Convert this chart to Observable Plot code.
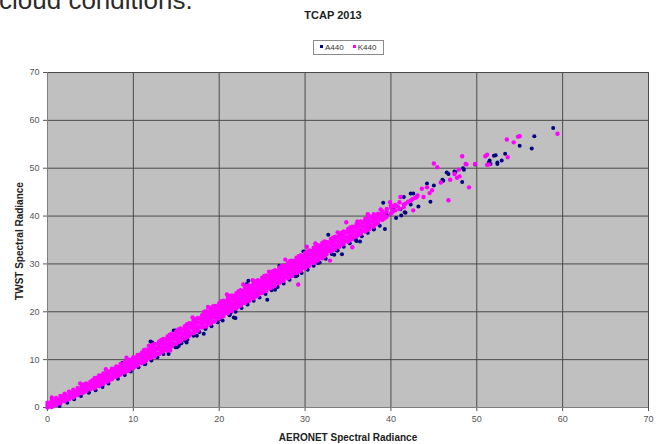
<!DOCTYPE html>
<html>
<head>
<meta charset="utf-8">
<script src="https://cdn.jsdelivr.net/npm/d3@7"></script>
<script src="https://cdn.jsdelivr.net/npm/@observablehq/plot@0.6"></script>
<style>
  html, body { margin: 0; padding: 0; background: #fff; }
  #wrap { position: relative; width: 656px; height: 444px; overflow: hidden; font-family: "Liberation Sans", Arial, sans-serif; }
  #chart { position: absolute; left: 0; top: 0; }
  .abs { position: absolute; white-space: nowrap; }
  #slide { left: -1px; top: -13px; font-size: 26px; line-height: 26px; color: #2b2b2b; }
  #title { left: 233px; width: 200px; text-align: center; top: 8px; font-size: 11px; line-height: 14px; font-weight: bold; color: #222; }
  #legend { left: 313px; top: 40px; width: 69px; height: 13px; border: 1px solid #8a8a8a; background: #fff; font-size: 8px; line-height: 13px; color: #333; }
  #legend span.m { display: inline-block; width: 3px; height: 3px; vertical-align: middle; margin: 0 2px 0 6px; position: relative; top: -1px; }
  #ytitle { left: 19px; top: 241px; transform: translate(-50%, -50%) rotate(-90deg); font-size: 10px; font-weight: bold; color: #222; }
  #xtitle { left: 348px; top: 437px; transform: translate(-50%, -50%); font-size: 10px; font-weight: bold; color: #222; }
</style>
</head>
<body>
<div id="wrap">
  <div id="chart"></div>
  <div class="abs" id="slide">cloud conditions.</div>
  <div class="abs" id="title">TCAP 2013</div>
  <div class="abs" id="legend"><span class="m" style="background:#000080"></span>A440<span class="m" style="background:#ff00ff;margin-left:9px"></span>K440</div>
  <div class="abs" id="ytitle">TWST Spectral Radiance</div>
  <div class="abs" id="xtitle">AERONET Spectral Radiance</div>
</div>
<script>
// Axis ticks
const xTicks = [0, 10, 20, 30, 40, 50, 60, 70];
const yTicks = [0, 10, 20, 30, 40, 50, 60, 70];
const seriesNames = ["A440", "K440"];
const seriesColors = ["#000080", "#ff00ff"];

// K440 dense band, read as columns: [AERONET x, TWST y values...]
const k440Band = [
  [0.0, 0.0, 0.5, 1.0], [0.5, 0.1, 0.8, 1.5], [1.0, 0.5, 1.2, 2.0], [1.5, 0.9, 1.7, 2.4],
  [2.0, 1.3, 2.1, 2.9], [2.5, 1.7, 2.5, 3.3], [3.0, 2.1, 2.9, 3.7], [3.5, 2.6, 3.4, 4.1],
  [4.0, 3.0, 3.8, 4.5], [4.5, 3.4, 4.2, 5.0], [5.0, 3.8, 4.6, 5.4],
  [5.5, 4.0, 4.7, 5.5, 6.2], [6.0, 4.5, 5.2, 6.0, 6.7], [6.5, 4.9, 5.6, 6.4, 7.1],
  [7.0, 5.4, 6.1, 6.9, 7.6], [7.5, 5.9, 6.6, 7.4, 8.1], [8.0, 6.4, 7.1, 7.9, 8.6],
  [8.5, 6.9, 7.6, 8.4, 9.1], [9.0, 7.3, 8.0, 8.8, 9.5], [9.5, 7.8, 8.5, 9.3, 10.0],
  [10.0, 8.3, 9.0, 9.8, 10.5], [10.5, 8.8, 9.5, 10.3, 11.0], [11.0, 9.3, 10.0, 10.8, 11.5],
  [11.5, 9.8, 10.6, 11.4, 12.1], [12.0, 10.3, 11.1, 11.9, 12.6],
  [12.5, 10.7, 11.6, 12.4, 13.3], [13.0, 11.2, 12.1, 12.9, 13.8], [13.5, 11.7, 12.6, 13.5, 14.3],
  [14.0, 12.3, 13.1, 14.0, 14.9], [14.5, 12.8, 13.6, 14.5, 15.4], [15.0, 13.3, 14.2, 15.0, 15.9],
  [15.5, 13.9, 14.7, 15.6, 16.5], [16.0, 14.4, 15.3, 16.2, 17.0], [16.5, 15.0, 15.8, 16.7, 17.6],
  [17.0, 15.5, 16.4, 17.3, 18.1], [17.5, 16.1, 16.9, 17.8, 18.7], [18.0, 16.7, 17.5, 18.4, 19.3],
  [18.5, 16.9, 17.7, 18.5, 19.3, 20.1], [19.0, 17.5, 18.3, 19.1, 19.9, 20.7],
  [19.5, 18.0, 18.8, 19.6, 20.4, 21.2], [20.0, 18.6, 19.4, 20.2, 21.0, 21.8],
  [20.5, 19.1, 19.9, 20.7, 21.5, 22.3], [21.0, 19.7, 20.5, 21.3, 22.1, 22.9],
  [21.5, 20.2, 21.0, 21.8, 22.6, 23.4], [22.0, 20.7, 21.5, 22.3, 23.1, 23.9],
  [22.5, 21.3, 22.1, 22.9, 23.7, 24.5], [23.0, 21.8, 22.6, 23.4, 24.2, 25.0],
  [23.5, 22.3, 23.1, 23.9, 24.7, 25.5], [24.0, 22.8, 23.6, 24.4, 25.2, 26.0],
  [24.5, 23.4, 24.2, 25.0, 25.8, 26.6], [25.0, 23.9, 24.7, 25.5, 26.3, 27.1],
  [25.5, 24.4, 25.2, 26.0, 26.8, 27.6], [26.0, 24.9, 25.7, 26.5, 27.3, 28.1],
  [26.5, 25.5, 26.3, 27.1, 27.9, 28.7], [27.0, 26.0, 26.8, 27.6, 28.4, 29.2],
  [27.5, 26.5, 27.3, 28.1, 28.9, 29.7], [28.0, 27.0, 27.8, 28.6, 29.4, 30.2],
  [28.5, 27.5, 28.3, 29.1, 29.9, 30.7], [29.0, 28.1, 28.9, 29.7, 30.5, 31.3],
  [29.5, 28.6, 29.4, 30.2, 31.0, 31.8], [30.0, 29.1, 29.9, 30.7, 31.5, 32.3],
  [30.5, 29.6, 30.4, 31.2, 32.0, 32.8], [31.0, 30.2, 31.0, 31.8, 32.6, 33.4],
  [31.5, 30.7, 31.5, 32.3, 33.1, 33.9], [32.0, 31.2, 32.0, 32.8, 33.6, 34.4],
  [32.5, 32.0, 32.9, 33.8, 34.6], [33.0, 32.6, 33.4, 34.3, 35.2], [33.5, 33.1, 34.0, 34.9, 35.7],
  [34.0, 33.6, 34.5, 35.4, 36.2], [34.5, 34.2, 35.0, 35.9, 36.8], [35.0, 34.7, 35.5, 36.5, 37.3],
  [35.5, 35.2, 36.1, 37.0, 37.8], [36.0, 35.7, 36.6, 37.5, 38.3], [36.5, 36.3, 37.1, 38.0, 38.9],
  [37.0, 36.8, 37.6, 38.5, 39.4], [37.5, 37.3, 38.2, 39.0, 39.9], [38.0, 37.8, 38.7, 39.6, 40.4],
  [38.5, 38.6, 39.6, 40.5], [39.0, 39.2, 40.0, 41.0], [39.5, 39.8, 40.9], [40.0, 40.5, 41.8],
  [40.5, 41.2, 42.3], [41.0, 41.5, 42.9], [41.5, 42.4], [42.3, 43.2], [43.0, 44.0]
];

// K440 band, in-between columns at x.25
const k440BandMid = [
  [0.25, 0.3, 0.9], [1.25, 0.9, 1.6], [2.25, 1.7, 2.5], [3.25, 2.5, 3.3], [4.25, 3.2, 4.0, 4.8],
  [5.25, 4.1, 4.9, 5.7], [6.25, 4.9, 5.8, 6.6], [7.25, 5.8, 6.7, 7.5], [8.25, 6.7, 7.6, 8.4],
  [9.25, 7.6, 8.5, 9.4], [10.25, 8.6, 9.5, 10.4], [11.25, 9.5, 10.4, 11.3, 12.0],
  [12.25, 10.6, 11.4, 12.3, 13.1], [13.25, 11.6, 12.4, 13.3, 14.1], [14.25, 12.6, 13.4, 14.3, 15.2],
  [15.25, 13.7, 14.5, 15.4, 16.3], [16.25, 14.7, 15.6, 16.5, 17.4], [17.25, 15.8, 16.7, 17.6, 18.5],
  [18.25, 16.9, 17.8, 18.6, 19.5, 20.0], [19.25, 17.9, 18.8, 19.6, 20.4, 21.1],
  [20.25, 19.0, 19.9, 20.8, 21.6, 22.2], [21.25, 20.1, 20.9, 21.8, 22.6, 23.3],
  [22.25, 21.1, 22.0, 22.8, 23.7, 24.3], [23.25, 22.2, 23.0, 23.9, 24.7, 25.4],
  [24.25, 23.2, 24.1, 24.9, 25.8, 26.4], [25.25, 24.3, 25.1, 25.9, 26.8, 27.5],
  [26.25, 25.3, 26.2, 27.0, 27.8, 28.5], [27.25, 26.4, 27.2, 28.0, 28.9, 29.5],
  [28.25, 27.4, 28.2, 29.1, 29.9, 30.6], [29.25, 28.4, 29.3, 30.1, 30.9, 31.6],
  [30.25, 29.5, 30.3, 31.2, 32.0, 32.6], [31.25, 30.5, 31.4, 32.2, 33.0, 33.7],
  [32.25, 31.6, 32.5, 33.3, 34.1, 34.7], [33.25, 32.9, 33.8, 34.7, 35.5],
  [34.25, 34.0, 34.8, 35.7, 36.5], [35.25, 35.0, 35.9, 36.8, 37.6], [36.25, 36.1, 36.9, 37.8, 38.6],
  [37.25, 37.1, 38.0, 38.8, 39.7], [38.25, 38.3, 39.2, 40.1], [39.25, 39.5, 40.5], [40.25, 41.0, 42.0]
];

// K440 band, in-between columns at x.75
const k440BandMid2 = [
  [0.75, 0.5, 1.3], [1.75, 1.5, 2.3], [2.75, 2.3, 3.1], [3.75, 3.1, 3.9], [4.75, 4.0, 4.8],
  [5.75, 4.5, 5.3, 6.1], [6.75, 5.5, 6.3, 7.1], [7.75, 6.4, 7.2, 8.0], [8.75, 7.4, 8.2, 9.0],
  [9.75, 8.4, 9.2, 10.0], [10.75, 9.4, 10.2, 11.0], [11.75, 10.4, 11.2, 12.0],
  [12.75, 11.3, 12.3, 13.2], [13.75, 12.4, 13.3, 14.2], [14.75, 13.4, 14.3, 15.2],
  [15.75, 14.5, 15.4, 16.3], [16.75, 15.6, 16.6, 17.5], [17.75, 16.8, 17.7, 18.6],
  [18.75, 17.6, 18.4, 19.2, 20.0], [19.75, 18.7, 19.5, 20.3, 21.1], [20.75, 19.8, 20.6, 21.4, 22.2],
  [21.75, 20.9, 21.7, 22.5, 23.3], [22.75, 21.9, 22.7, 23.5, 24.3], [23.75, 23.0, 23.8, 24.6, 25.4],
  [24.75, 24.0, 24.8, 25.6, 26.4], [25.75, 25.1, 25.9, 26.7, 27.5], [26.75, 26.1, 26.9, 27.7, 28.5],
  [27.75, 27.2, 28.0, 28.8, 29.6], [28.75, 28.2, 29.0, 29.8, 30.6], [29.75, 29.2, 30.0, 30.8, 31.6],
  [30.75, 30.3, 31.1, 31.9, 32.7], [31.75, 31.4, 32.2, 33.0, 33.8], [32.75, 32.7, 33.6, 34.5],
  [33.75, 33.8, 34.7, 35.6], [34.75, 34.8, 35.7, 36.6], [35.75, 35.9, 36.8, 37.7],
  [36.75, 36.9, 37.8, 38.7], [37.75, 38.0, 38.9, 39.8], [38.75, 39.4, 40.4]
];

// K440 scattered points [x, y]
const k440Scatter = [
  [0.5, 2.1], [13.9, 11.9], [14.3, 11.9], [20.9, 23.6], [22.8, 25.7], [27.7, 30.9], [29.2, 25.7],
  [30.2, 33.6], [32.9, 30.7], [34.8, 38.7], [35.5, 33.5], [39.9, 42.9], [38.8, 41.4], [39.5, 41.5],
  [41.1, 44.0], [41.7, 42.6], [42.6, 41.2], [42.8, 43.8], [43.6, 45.7], [44.8, 45.4], [45.4, 50.2],
  [45.0, 51.0], [46.7, 43.3], [46.9, 47.6], [47.7, 48.0], [47.9, 49.7], [47.4, 48.8], [48.0, 48.3],
  [48.3, 52.5], [48.7, 50.9], [48.8, 50.8], [49.1, 46.0], [49.8, 50.9], [51.0, 52.5], [51.2, 52.8],
  [51.2, 50.7], [51.4, 50.8], [53.5, 56.0], [53.6, 52.3], [54.3, 55.4], [54.8, 56.6], [55.0, 56.7],
  [59.4, 57.2], [40.2, 41.0], [40.8, 42.0], [41.5, 41.9], [42.0, 43.0], [43.1, 44.3], [43.8, 44.0],
  [44.2, 46.0], [44.5, 44.8], [40.0, 42.2], [42.5, 43.5], [37.3, 40.4], [36.1, 38.9], [33.8, 36.6],
  [25.8, 28.4], [18.7, 21.0], [11.8, 12.9], [6.8, 8.0], [45.8, 47.0], [16.9, 18.8], [23.9, 26.6],
  [9.2, 10.4], [3.8, 5.0], [31.2, 34.3]
];

// A440 points along the lower edge of the band [x, y]
const a440Edge = [
  [1.4, 0.3], [2.3, 1.0], [3.1, 1.7], [3.9, 2.4], [4.8, 3.1], [5.6, 3.6], [6.4, 4.3], [7.1, 5.0],
  [8.2, 6.0], [9.0, 6.8], [9.7, 7.5], [10.6, 8.4], [11.3, 9.1], [12.1, 9.8], [12.8, 10.5],
  [13.5, 11.2], [14.9, 12.6], [15.6, 13.4], [16.3, 14.2], [17.0, 15.0], [17.7, 15.8], [18.4, 16.5],
  [19.1, 17.0], [19.8, 17.8], [21.2, 19.3], [21.9, 20.0], [22.6, 20.8], [23.3, 21.5], [24.0, 22.3],
  [24.7, 23.0], [25.4, 23.7], [26.1, 24.5], [26.8, 25.2], [27.5, 25.9], [28.2, 26.7], [28.9, 27.4],
  [29.6, 28.1], [30.3, 28.8], [31.0, 29.6], [31.7, 30.3], [32.4, 31.1], [33.1, 32.1], [33.8, 32.8],
  [34.5, 33.6], [35.2, 34.3], [35.9, 35.0], [36.6, 35.8], [37.3, 36.5], [38.0, 37.2], [38.7, 38.0],
  [20.4, 18.2], [26.5, 24.6], [29.1, 27.6], [33.4, 31.9], [36.0, 34.8]
];

// A440 scattered points [x, y]
const a440Scatter = [
  [1.35, 0.7], [4.8, 3.2], [8.7, 9.3], [9.6, 7.7], [10.0, 8.3], [11.4, 9.1], [12.0, 13.8], [12.2, 13.6],
  [14.1, 11.2], [14.7, 16.1], [14.9, 16.1], [15.1, 12.6], [15.3, 12.9], [16.0, 14.0], [16.2, 13.6],
  [16.6, 15.4], [17.4, 15.0], [18.2, 15.4], [18.4, 16.4], [20.1, 18.5], [21.3, 19.7], [21.7, 18.8],
  [21.9, 18.7], [23.2, 25.8], [23.4, 26.5], [25.6, 22.5], [31.5, 30.2], [32.7, 36.1], [32.7, 32.7],
  [33.7, 32.8], [34.3, 32.0], [36.4, 34.7], [37.2, 37.7], [38.0, 37.3], [39.3, 37.3], [41.2, 40.1],
  [41.6, 40.8], [42.3, 44.7], [39.1, 42.8], [39.5, 40.2], [40.3, 41.7], [41.1, 41.4], [41.5, 44.0],
  [41.7, 40.7], [42.3, 42.4], [42.6, 44.7], [44.6, 43.0], [44.2, 46.8], [45.0, 46.4], [46.1, 47.4],
  [46.7, 48.8], [47.5, 49.2], [48.3, 47.1], [48.5, 49.7], [49.8, 50.8], [51.6, 50.9], [52.4, 50.9],
  [52.2, 52.7], [46.0, 47.6], [46.5, 49.1], [47.4, 49.3], [48.4, 50.0], [52.0, 52.6], [52.4, 51.2],
  [52.9, 51.6], [53.3, 53.0], [55.0, 54.7], [56.4, 54.1], [56.7, 56.7], [58.9, 58.4], [51.5, 51.6],
  [51.4, 51.2], [27.0, 29.6], [29.8, 32.6], [43.2, 42.0], [40.6, 39.6]
];

const k440 = k440Band.concat(k440BandMid, k440BandMid2)
  .flatMap(([x, ...ys]) => ys.map(y => [x, y]))
  .concat(k440Scatter);
const a440 = a440Edge.concat(a440Scatter);

const chart = Plot.plot({
  width: 656,
  height: 444,
  marginLeft: 47,
  marginRight: 8,
  marginTop: 72,
  marginBottom: 37,
  style: { fontFamily: "'Liberation Sans', Arial, sans-serif", background: "transparent" },
  x: { domain: [0, 70], ticks: xTicks },
  y: { domain: [0, 70], ticks: yTicks },
  marks: [
    Plot.frame({ fill: "#c0c0c0", stroke: null }),
    Plot.gridX(xTicks, { stroke: "#4a4a4a", strokeOpacity: 1 }),
    Plot.gridY(yTicks, { stroke: "#4a4a4a", strokeOpacity: 1 }),
    Plot.axisX(xTicks, { tickSize: 4, tickPadding: 4, fontSize: 9, color: "#555", label: null }),
    Plot.axisY(yTicks, { tickSize: 4, tickPadding: 4, fontSize: 9, color: "#555", label: null }),
    Plot.ruleX([0], { stroke: "#808080" }),
    Plot.ruleY([0], { stroke: "#808080" }),
    Plot.dot(a440, { x: d => d[0], y: d => d[1], r: 2, fill: seriesColors[0], stroke: null, title: () => seriesNames[0] }),
    Plot.dot(k440, { x: d => d[0], y: d => d[1], r: 2.2, fill: seriesColors[1], stroke: null, title: () => seriesNames[1] })
  ]
});
document.getElementById("chart").appendChild(chart);
</script>
</body>
</html>
